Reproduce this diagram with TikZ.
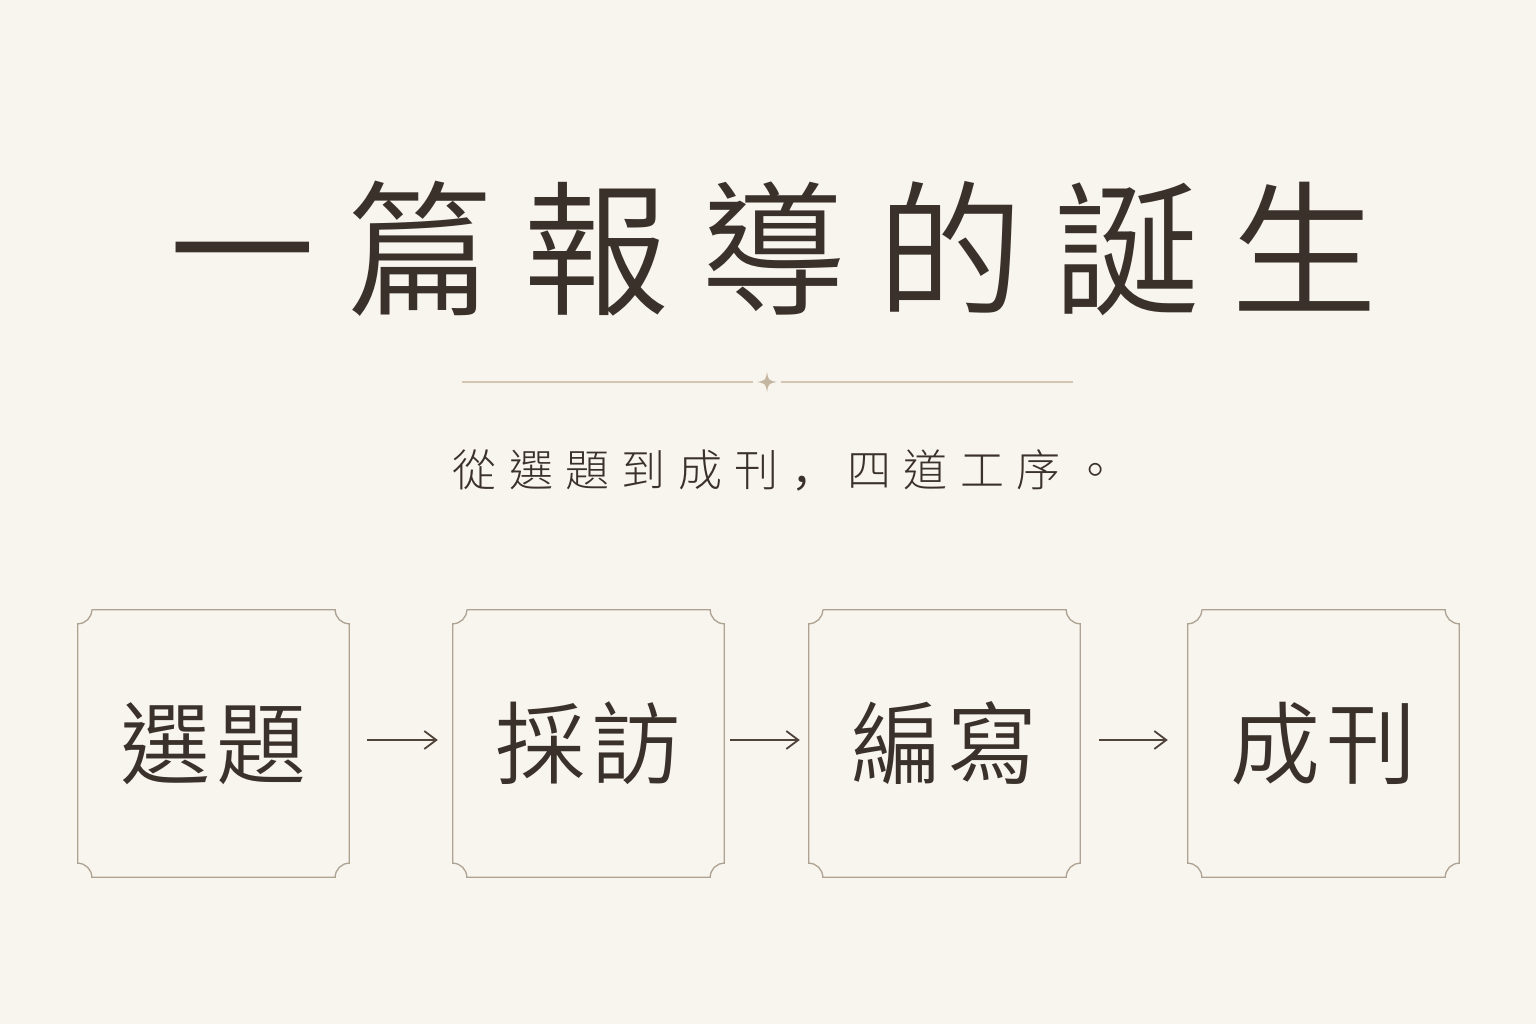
\documentclass[tikz,border=0pt]{standalone}
\usepackage{fontspec}
\usetikzlibrary{arrows.meta,calc}
\IfFontExistsTF{Noto Sans CJK TC Light}
  {\newfontfamily\cjk{Noto Sans CJK TC Light}}
  {\newfontfamily\cjk{Noto Sans CJK TC}}
\IfFontExistsTF{Noto Sans CJK TC DemiLight}
  {\newfontfamily\cjkm{Noto Sans CJK TC DemiLight}}
  {\newfontfamily\cjkm{Noto Sans CJK TC}}
\newfontfamily\cjksc{Noto Sans CJK SC}
\definecolor{paper}{HTML}{F8F4EE}
\definecolor{ink}{HTML}{3A322A}
\definecolor{frame}{HTML}{AEA292}
\definecolor{rule}{HTML}{D3C5B1}
\definecolor{starc}{HTML}{C4B6A1}
\definecolor{arrowc}{HTML}{4E443A}
\newcommand\tsp{\hspace*{31pt}}
\newcommand\ssp{\hspace*{12.4pt}}
\newcommand\bsp{\hspace*{6pt}}
\newcommand\notchframe[1]{%
  \draw[frameline]
    ($(#1.north west)+(14,0)$) -- ($(#1.north east)+(-14,0)$)
    arc[start angle=180,end angle=270,radius=14]
    -- ($(#1.south east)+(0,14)$)
    arc[start angle=90,end angle=180,radius=14]
    -- ($(#1.south west)+(14,0)$)
    arc[start angle=0,end angle=90,radius=14]
    -- ($(#1.north west)+(0,-14)$)
    arc[start angle=270,end angle=360,radius=14];}
\begin{document}
\begin{tikzpicture}[x=1pt,y=1pt,
  frameline/.style={draw=frame,line width=1.3pt},
  stepbox/.style={minimum width=271pt,minimum height=267pt,inner sep=0pt,text=ink,font=\cjkm\fontsize{90}{90}\selectfont},
  flowarrow/.style={draw=arrowc,line width=1.8pt,-{Straight Barb[length=12pt,width=18pt,line width=1.8pt]}}]
\fill[paper] (0,0) rectangle (1536,1024);
\useasboundingbox (0,0) rectangle (1536,1024);
% title
\node[text=ink,font=\cjkm\fontsize{146}{146}\selectfont,inner sep=0pt] (title) at (773.5,775)
  {一\tsp 篇\tsp 報\tsp 導\tsp 的\tsp 誕\tsp 生};
% divider
\coordinate (dl) at (462,642);
\coordinate (dr) at (1073,642);
\node[inner sep=0pt,minimum size=1pt] (star) at (767,642) {};
\draw[rule,line width=1.3pt] (dl) -- ($(star)+(-14,0)$);
\draw[rule,line width=1.3pt] ($(star)+(14,0)$) -- (dr);
\fill[starc] ($(star)+(0,10)$) .. controls ($(star)+(1.5,1.5)$) .. ($(star)+(10,0)$)
  .. controls ($(star)+(1.5,-1.5)$) .. ($(star)+(0,-10)$)
  .. controls ($(star)+(-1.5,-1.5)$) .. ($(star)+(-10,0)$)
  .. controls ($(star)+(-1.5,1.5)$) .. cycle;
% subtitle
\node[text=ink,font=\cjk\fontsize{44}{44}\selectfont,inner sep=0pt] (sub) at (785,554)
  {從\ssp 選\ssp 題\ssp 到\ssp 成\ssp 刊\ssp {\cjksc ，}\ssp 四\ssp 道\ssp 工\ssp 序\ssp 。};
% boxes
\node[stepbox] (b1) at (213.5,280.5) {選\bsp 題};
\node[stepbox] (b2) at (588.5,280.5) {採\bsp 訪};
\node[stepbox] (b3) at (944.5,280.5) {編\bsp 寫};
\node[stepbox] (b4) at (1323.5,280.5) {成\bsp 刊};
\notchframe{b1}
\notchframe{b2}
\notchframe{b3}
\notchframe{b4}
% arrows
\draw[flowarrow,shorten <=18pt,shorten >=15pt] ([yshift=3.5pt]b1.east) -- ([yshift=3.5pt]b2.west);
\draw[flowarrow,shorten <=6pt,shorten >=9pt] ([yshift=3.5pt]b2.east) -- ([yshift=3.5pt]b3.west);
\draw[flowarrow,shorten <=19pt,shorten >=20pt] ([yshift=3.5pt]b3.east) -- ([yshift=3.5pt]b4.west);
\end{tikzpicture}
\end{document}
